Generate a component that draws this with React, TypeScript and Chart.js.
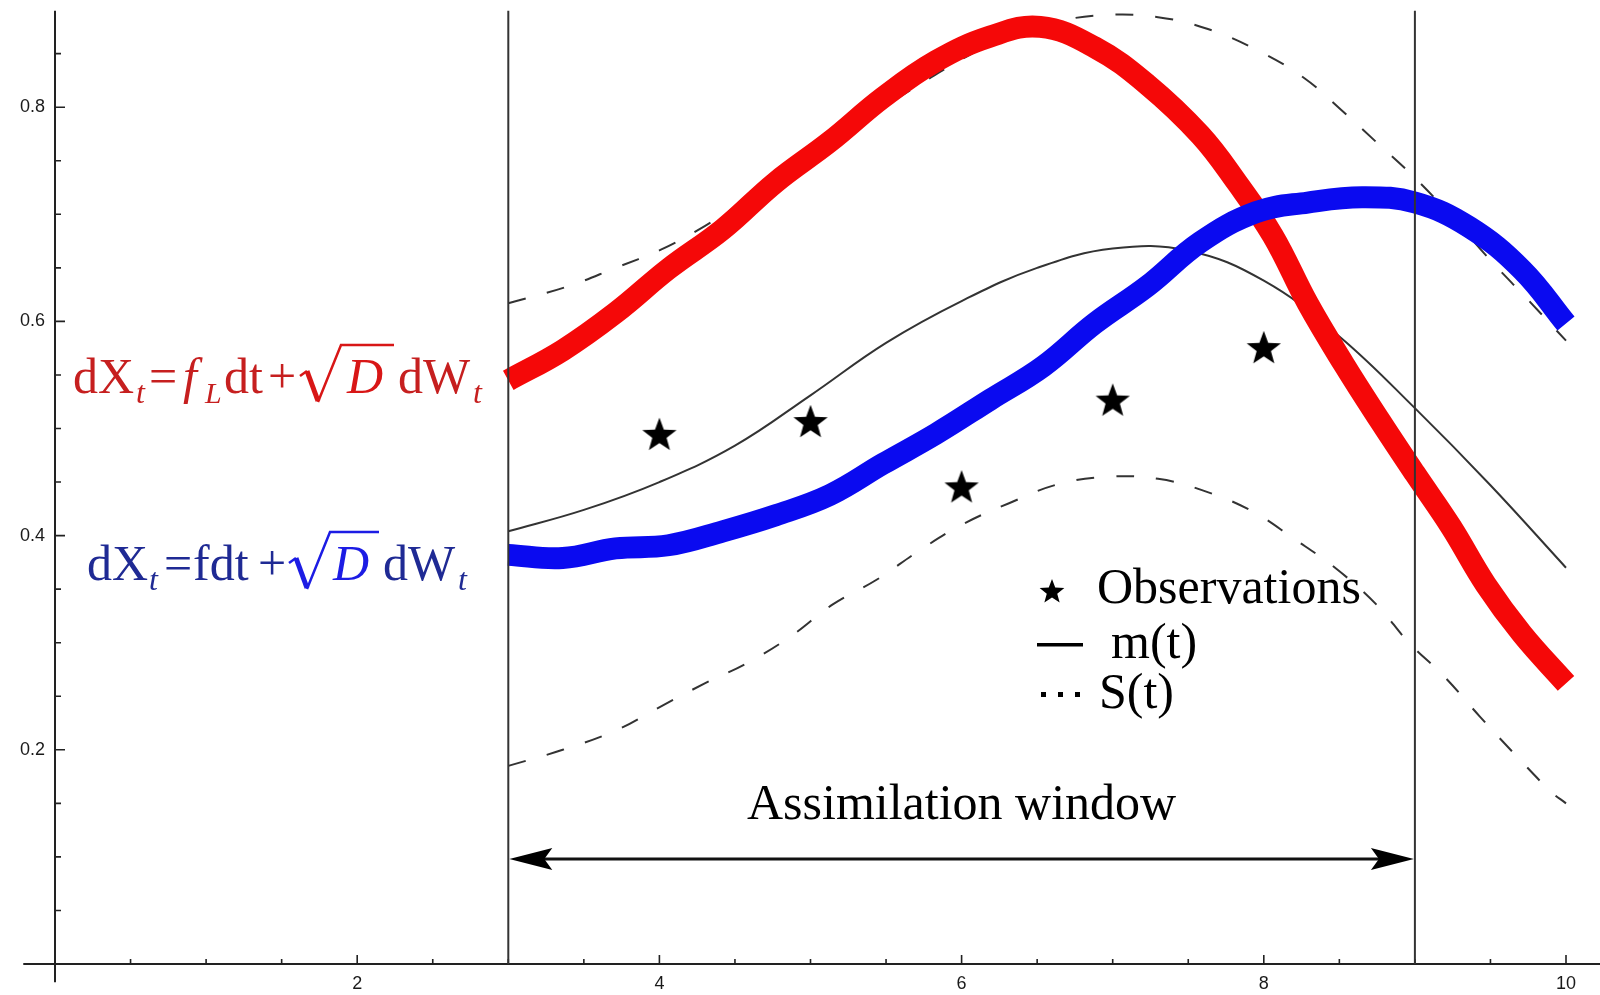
import React, { useEffect, useRef } from "react";
import { Chart, registerables } from "chart.js";

Chart.register(...registerables);

// ---------- data ----------
const redX = [3.0, 3.36, 3.71, 4.06, 4.42, 4.77, 5.13, 5.48, 5.83, 6.19, 6.52, 6.88, 7.23, 7.58, 7.82, 8.06, 8.29, 8.53, 8.77, 9.0, 9.24, 9.47, 9.71, 10.0];
const redY = [0.545, 0.573, 0.608, 0.649, 0.686, 0.73, 0.768, 0.809, 0.843, 0.866, 0.875, 0.856, 0.821, 0.774, 0.73, 0.68, 0.617, 0.56, 0.507, 0.458, 0.408, 0.354, 0.308, 0.262];

const blueX = [3.0, 3.36, 3.71, 4.06, 4.42, 4.77, 5.13, 5.48, 5.83, 6.19, 6.54, 6.88, 7.23, 7.58, 7.95, 8.29, 8.65, 9.0, 9.36, 9.71, 10.0];
const blueY = [0.382, 0.379, 0.388, 0.391, 0.404, 0.419, 0.438, 0.467, 0.495, 0.527, 0.558, 0.598, 0.633, 0.674, 0.702, 0.711, 0.716, 0.711, 0.688, 0.648, 0.598];

const meanX = [3, 3.5, 4, 4.5, 5, 5.5, 6, 6.5, 7, 7.5, 8, 8.5, 9, 9.5, 10];
const meanY = [0.404, 0.424, 0.45, 0.484, 0.531, 0.58, 0.619, 0.65, 0.668, 0.666, 0.638, 0.586, 0.519, 0.447, 0.37];

const sUpX = [3.0, 3.4, 3.71, 4.01, 4.3, 4.58, 4.89, 5.15, 5.44, 5.72, 6.03, 6.31, 6.6, 6.94, 7.3, 7.63, 7.96, 8.26, 8.5, 8.74, 9.0, 9.25, 9.5, 9.75, 10.0];
const sUpY = [0.617, 0.633, 0.65, 0.667, 0.689, 0.714, 0.743, 0.768, 0.796, 0.821, 0.847, 0.866, 0.879, 0.886, 0.884, 0.873, 0.853, 0.828, 0.799, 0.768, 0.734, 0.697, 0.657, 0.62, 0.582];

const sLoX = [3.0, 3.36, 3.71, 3.99, 4.3, 4.58, 4.87, 5.15, 5.44, 5.72, 6.0, 6.31, 6.64, 6.97, 7.3, 7.6, 7.92, 8.2, 8.48, 8.75, 8.96, 9.19, 9.43, 9.66, 9.9, 10.0];
const sLoY = [0.185, 0.2, 0.218, 0.239, 0.262, 0.281, 0.306, 0.336, 0.359, 0.386, 0.41, 0.43, 0.448, 0.455, 0.453, 0.442, 0.423, 0.397, 0.369, 0.335, 0.3, 0.269, 0.231, 0.196, 0.161, 0.15];

const obsX = [4, 5, 6, 7, 8];
const obsY = [0.495, 0.507, 0.446, 0.527, 0.576];

const xMajorTicks = [2, 4, 6, 8, 10];
const xTickLabels = ["2", "4", "6", "8", "10"];
const xMinorTicks = [0.5, 1, 1.5, 2.5, 3, 3.5, 4.5, 5, 5.5, 6.5, 7, 7.5, 8.5, 9, 9.5];
const yMajorTicks = [0.2, 0.4, 0.6, 0.8];
const yTickLabels = ["0.2", "0.4", "0.6", "0.8"];
const yMinorTicks = [0.05, 0.1, 0.15, 0.25, 0.3, 0.35, 0.45, 0.5, 0.55, 0.65, 0.7, 0.75, 0.85];

const windowStart = 3;
const windowEnd = 9;
const windowLabel = "Assimilation window";
const legendLabels = ["Observations", "m(t)", "S(t)"];

// ---------- styling ----------
const SERIF = '"Liberation Serif", "Times New Roman", serif';
const SANS = '"Liberation Sans", Arial, sans-serif';
const RED_TXT = "#c61f1f";
const RED_RAD = "#d81616";
const BLUE_TXT = "#1f2a94";
const BLUE_RAD = "#1c1ce4";

function drawStar(ctx: CanvasRenderingContext2D, cx: number, cy: number, outer: number, inner: number) {
  ctx.beginPath();
  for (let i = 0; i < 10; i++) {
    const r = i % 2 === 0 ? outer : inner;
    const a = -Math.PI / 2 + (i * Math.PI) / 5;
    const px = cx + r * Math.cos(a);
    const py = cy + r * Math.sin(a);
    if (i === 0) ctx.moveTo(px, py);
    else ctx.lineTo(px, py);
  }
  ctx.closePath();
  ctx.fillStyle = "#000";
  ctx.fill();
}

function makeStar(outer: number, inner: number): HTMLCanvasElement {
  const size = Math.ceil(outer * 2 + 4);
  const c = document.createElement("canvas");
  c.width = size;
  c.height = size;
  const ctx = c.getContext("2d")!;
  drawStar(ctx, size / 2, size / 2 + outer * 0.1, outer, inner);
  return c;
}

type Piece = { t: string; x: number; size: number; italic?: boolean; dy?: number; color: string };

function drawPieces(ctx: CanvasRenderingContext2D, pieces: Piece[], baseline: number) {
  ctx.textAlign = "left";
  ctx.textBaseline = "alphabetic";
  for (const p of pieces) {
    ctx.font = `${p.italic ? "italic " : ""}${p.size}px ${SERIF}`;
    ctx.fillStyle = p.color;
    ctx.fillText(p.t, p.x, baseline + (p.dy || 0));
  }
}

function drawRadical(ctx: CanvasRenderingContext2D, x0: number, xEnd: number, b: number, color: string) {
  ctx.save();
  ctx.strokeStyle = color;
  ctx.lineJoin = "miter";
  ctx.lineWidth = 2.5;
  ctx.beginPath();
  ctx.moveTo(x0, b - 17);
  ctx.lineTo(x0 + 7, b - 22);
  ctx.stroke();
  ctx.lineWidth = 5;
  ctx.beginPath();
  ctx.moveTo(x0 + 7, b - 22);
  ctx.lineTo(x0 + 18, b + 8);
  ctx.stroke();
  ctx.lineWidth = 2.5;
  ctx.beginPath();
  ctx.moveTo(x0 + 18, b + 9);
  ctx.lineTo(x0 + 41, b - 48);
  ctx.lineTo(xEnd, b - 48);
  ctx.stroke();
  ctx.restore();
}

const redPieces: Piece[] = [
  { t: "dX", x: 73, size: 50, color: RED_TXT },
  { t: "t", x: 136, size: 32, italic: true, dy: 10, color: RED_TXT },
  { t: "=", x: 149, size: 50, color: RED_TXT },
  { t: "f", x: 183, size: 50, italic: true, color: RED_TXT },
  { t: "L", x: 205, size: 30, italic: true, dy: 10, color: RED_TXT },
  { t: "dt", x: 224, size: 50, color: RED_TXT },
  { t: "+", x: 268, size: 50, color: RED_TXT },
  { t: "D", x: 347, size: 50, italic: true, color: RED_RAD },
  { t: "dW", x: 398, size: 50, color: RED_TXT },
  { t: "t", x: 473, size: 32, italic: true, dy: 10, color: RED_TXT },
];

const bluePieces: Piece[] = [
  { t: "dX", x: 87, size: 50, color: BLUE_TXT },
  { t: "t", x: 149, size: 32, italic: true, dy: 10, color: BLUE_TXT },
  { t: "=", x: 164, size: 50, color: BLUE_TXT },
  { t: "fdt", x: 193, size: 50, color: BLUE_TXT },
  { t: "+", x: 258, size: 50, color: BLUE_TXT },
  { t: "D", x: 333, size: 50, italic: true, color: BLUE_RAD },
  { t: "dW", x: 383, size: 50, color: BLUE_TXT },
  { t: "t", x: 458, size: 32, italic: true, dy: 10, color: BLUE_TXT },
];

// Let the plot area fill the whole canvas (no automatic overflow padding).
const fullAreaPlugin = {
  id: "fullArea",
  afterLayout(chart: any) {
    const W = chart.width;
    const H = chart.height;
    chart.chartArea = { left: 0, top: 0, right: W, bottom: H, width: W, height: H };
    const xs = chart.scales.x;
    const ys = chart.scales.y;
    xs.left = 0; xs.right = W; xs.width = W; xs.top = 0; xs.bottom = H; xs.height = H;
    ys.left = 0; ys.right = W; ys.width = W; ys.top = 0; ys.bottom = H; ys.height = H;
    xs.configure();
    ys.configure();
  },
};

const overlayPlugin = {
  id: "overlay",
  beforeDatasetsDraw(chart: any) {
    const ctx: CanvasRenderingContext2D = chart.ctx;
    const xs = chart.scales.x;
    const ys = chart.scales.y;
    const x0 = xs.getPixelForValue(0);
    const y0 = ys.getPixelForValue(0);
    ctx.save();
    ctx.strokeStyle = "#222";
    ctx.lineWidth = 2;
    ctx.beginPath();
    ctx.moveTo(xs.getPixelForValue(-0.21), y0);
    ctx.lineTo(chart.width, y0);
    ctx.moveTo(x0, ys.getPixelForValue(0.89));
    ctx.lineTo(x0, ys.getPixelForValue(-0.017));
    ctx.stroke();
    ctx.lineWidth = 1.6;
    ctx.beginPath();
    for (const t of xMajorTicks) {
      const p = xs.getPixelForValue(t);
      ctx.moveTo(p, y0);
      ctx.lineTo(p, y0 - 9);
    }
    for (const t of xMinorTicks) {
      const p = xs.getPixelForValue(t);
      ctx.moveTo(p, y0);
      ctx.lineTo(p, y0 - 5);
    }
    for (const t of yMajorTicks) {
      const p = ys.getPixelForValue(t);
      ctx.moveTo(x0, p);
      ctx.lineTo(x0 + 10, p);
    }
    for (const t of yMinorTicks) {
      const p = ys.getPixelForValue(t);
      ctx.moveTo(x0, p);
      ctx.lineTo(x0 + 6, p);
    }
    ctx.stroke();
    ctx.fillStyle = "#1a1a1a";
    ctx.font = `18px ${SANS}`;
    ctx.textAlign = "center";
    ctx.textBaseline = "top";
    xMajorTicks.forEach((t, i) => ctx.fillText(xTickLabels[i], xs.getPixelForValue(t), y0 + 11));
    ctx.textAlign = "right";
    ctx.textBaseline = "middle";
    yMajorTicks.forEach((t, i) => ctx.fillText(yTickLabels[i], x0 - 10, ys.getPixelForValue(t)));
    ctx.restore();
  },
  afterDatasetsDraw(chart: any) {
    const ctx: CanvasRenderingContext2D = chart.ctx;
    const xs = chart.scales.x;
    const ys = chart.scales.y;
    const y0 = ys.getPixelForValue(0);
    const xa = xs.getPixelForValue(windowStart);
    const xb = xs.getPixelForValue(windowEnd);
    ctx.save();
    ctx.strokeStyle = "#333";
    ctx.lineWidth = 2;
    ctx.beginPath();
    ctx.moveTo(xa, ys.getPixelForValue(0.89));
    ctx.lineTo(xa, y0);
    ctx.moveTo(xb, ys.getPixelForValue(0.89));
    ctx.lineTo(xb, y0);
    ctx.stroke();
    const ay = ys.getPixelForValue(0.098);
    ctx.strokeStyle = "#111";
    ctx.lineWidth = 3;
    ctx.beginPath();
    ctx.moveTo(xa + 20, ay);
    ctx.lineTo(xb - 20, ay);
    ctx.stroke();
    ctx.fillStyle = "#000";
    ctx.beginPath();
    ctx.moveTo(xa + 1, ay);
    ctx.lineTo(xa + 44, ay - 11);
    ctx.lineTo(xa + 36, ay);
    ctx.lineTo(xa + 44, ay + 11);
    ctx.closePath();
    ctx.fill();
    ctx.beginPath();
    ctx.moveTo(xb - 1, ay);
    ctx.lineTo(xb - 44, ay - 11);
    ctx.lineTo(xb - 36, ay);
    ctx.lineTo(xb - 44, ay + 11);
    ctx.closePath();
    ctx.fill();
    ctx.font = `50px ${SERIF}`;
    ctx.textAlign = "center";
    ctx.textBaseline = "alphabetic";
    ctx.fillStyle = "#000";
    ctx.fillText(windowLabel, xs.getPixelForValue((windowStart + windowEnd) / 2), ys.getPixelForValue(0.1354));
    drawStar(ctx, 1052, 592, 13, 5.5);
    ctx.textAlign = "left";
    ctx.fillText(legendLabels[0], 1097, 603);
    ctx.fillText(legendLabels[1], 1111, 658);
    ctx.fillText(legendLabels[2], 1099, 708);
    ctx.fillRect(1037, 643, 46, 3.5);
    for (const dx of [1041, 1058, 1075]) ctx.fillRect(dx, 692, 5, 5);
    drawPieces(ctx, redPieces, 393);
    drawRadical(ctx, 300, 394, 393, RED_RAD);
    drawPieces(ctx, bluePieces, 580);
    drawRadical(ctx, 289, 379, 580, BLUE_RAD);
    ctx.restore();
  },
};

const pts = (xs: number[], ys: number[]) => xs.map((x, i) => ({ x, y: ys[i] }));

export default function App() {
  const ref = useRef<HTMLCanvasElement | null>(null);
  useEffect(() => {
    document.body.style.margin = "0";
    const canvas = ref.current!;
    const star = makeStar(18, 7.5);
    const chart = new Chart(canvas, {
      type: "line",
      data: {
        datasets: [
          {
            label: "Observations",
            data: pts(obsX, obsY),
            showLine: false,
            pointStyle: star as any,
            pointRadius: 1,
            order: 0,
          },
          {
            label: "dXt=fdt+√D dWt",
            data: pts(blueX, blueY),
            borderColor: "rgb(10,10,240)",
            borderWidth: 22,
            pointRadius: 0,
            tension: 0.4,
            borderJoinStyle: "round",
            order: 1,
          },
          {
            label: "dXt=fLdt+√D dWt",
            data: pts(redX, redY),
            borderColor: "rgb(245,8,8)",
            borderWidth: 22,
            pointRadius: 0,
            tension: 0.4,
            borderJoinStyle: "round",
            order: 2,
          },
          {
            label: "m(t)",
            data: pts(meanX, meanY),
            borderColor: "#333",
            borderWidth: 2,
            pointRadius: 0,
            tension: 0.4,
            order: 3,
          },
          {
            label: "S(t) upper",
            data: pts(sUpX, sUpY),
            borderColor: "#333",
            borderWidth: 2,
            borderDash: [18, 22],
            pointRadius: 0,
            tension: 0.4,
            order: 4,
          },
          {
            label: "S(t) lower",
            data: pts(sLoX, sLoY),
            borderColor: "#333",
            borderWidth: 2,
            borderDash: [18, 22],
            pointRadius: 0,
            tension: 0.4,
            order: 5,
          },
        ],
      },
      options: {
        responsive: false,
        animation: false,
        devicePixelRatio: 1,
        layout: { padding: 0 },
        plugins: { legend: { display: false }, tooltip: { enabled: false } },
        scales: {
          x: { type: "linear", min: -0.364, max: 10.225, display: false },
          y: { type: "linear", min: -0.02894, max: 0.90009, display: false },
        },
      },
      plugins: [fullAreaPlugin, overlayPlugin],
    });
    return () => chart.destroy();
  }, []);
  return (
    <div style={{ position: "absolute", left: 0, top: 0, width: 1600, height: 995, background: "#fff" }}>
      <canvas ref={ref} width={1600} height={995} style={{ width: 1600, height: 995 }} />
    </div>
  );
}
